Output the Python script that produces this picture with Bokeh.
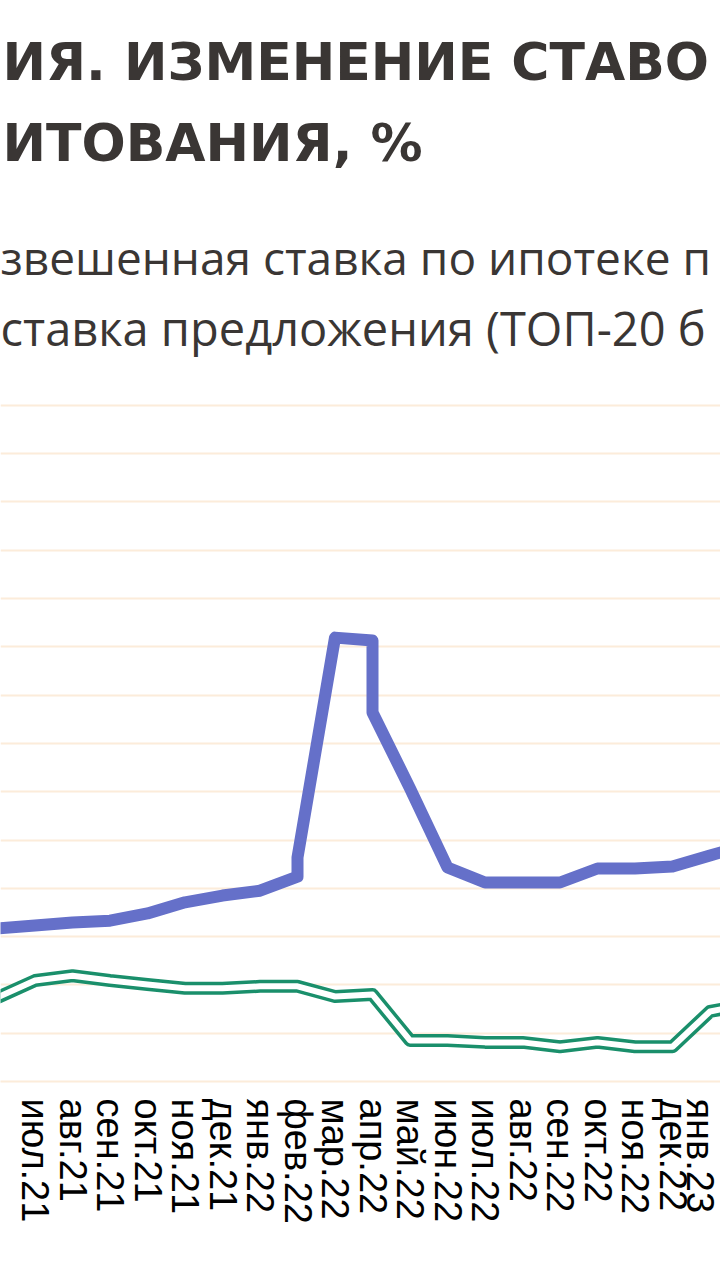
from bokeh.plotting import figure
from bokeh.models import Range1d, FixedTicker, Label
from bokeh.embed import file_html
from bokeh.resources import INLINE

# ---- data ----
months = ["июн.21", "июл.21", "авг.21", "сен.21", "окт.21", "ноя.21", "дек.21",
          "янв.22", "фев.22", "мар.22", "апр.22", "май.22", "июн.22", "июл.22",
          "авг.22", "сен.22", "окт.22", "ноя.22", "дек.22", "янв.23", "фев.23"]

# offer rate (TOP-20 banks): month position, two readings in фев.22 and апр.22
offer_pos = [0, 1, 2, 3, 4, 5, 6, 7, 8, 8, 9, 10, 10, 11, 12, 13, 14, 15, 16, 17, 18, 19, 20]
offer_rate = [8.17, 8.23, 8.29, 8.33, 8.48, 8.71, 8.85, 8.95, 9.24, 9.64, 14.19, 14.13,
              12.64, 11.07, 9.43, 9.12, 9.12, 9.12, 9.41, 9.41, 9.45, 9.68, 9.90]

# weighted average mortgage rate
avg_pos = list(range(21))
avg_rate = [6.74, 7.09, 7.19, 7.09, 7.01, 6.93, 6.93, 6.97, 6.97, 6.76, 6.80, 5.85,
            5.85, 5.81, 5.81, 5.72, 5.81, 5.72, 5.72, 6.45, 6.60]

grid_values = list(range(5, 20))

title_lines = ["ИЯ. ИЗМЕНЕНИЕ СТАВО", "ИТОВАНИЯ, %"]
legend_lines = ["звешенная ставка по ипотеке п", "ставка предложения (ТОП-20 б"]

# ---- styling ----
BLUE = "#6570c9"
GREEN = "#1a8f6b"
GRID = "#fcecda"
TEXT = "#3a3634"

W, H = 720, 1280
PX_PER_CAT = 37.5
PX_PER_UNIT = 48.3
FRAME_H = 1081

p = figure(width=W, height=H,
           x_range=Range1d(3 / PX_PER_CAT, (W + 3) / PX_PER_CAT),
           y_range=Range1d(5, 5 + FRAME_H / PX_PER_UNIT),
           output_backend="svg", toolbar_location=None,
           y_axis_location=None,
           min_border_left=0, min_border_right=0, min_border_top=0,
           min_border_bottom=H - FRAME_H)
p.outline_line_color = None
p.background_fill_color = "white"
p.border_fill_color = "white"
p.xgrid.visible = False
for g in p.ygrid:
    g.ticker = FixedTicker(ticks=grid_values)
    g.grid_line_color = GRID
    g.grid_line_width = 2

p.line(avg_pos, avg_rate, line_color=GREEN, line_width=13, line_join="round")
p.line(avg_pos, avg_rate, line_color="white", line_width=6, line_join="round")
p.line(offer_pos, offer_rate, line_color=BLUE, line_width=12, line_join="round")

ax = p.xaxis[0]
ax.ticker = FixedTicker(ticks=list(range(len(months))))
ax.major_label_overrides = {i: m for i, m in enumerate(months)}
ax.major_label_orientation = "vertical"
ax.major_label_text_font = "Liberation Sans"
ax.major_label_text_font_size = "38px"
ax.major_label_text_color = "black"
ax.major_label_standoff = 11
ax.major_tick_line_color = None
ax.minor_tick_line_color = None
ax.axis_line_color = GRID
ax.axis_line_width = 2

# title and legend texts
for txt, y in zip(title_lines, [1020, 939]):
    p.add_layout(Label(x=2, y=y, x_units="screen", y_units="screen", text=txt,
                       text_font="DejaVu Sans", text_font_style="bold",
                       text_font_size="52px", text_color=TEXT,
                       text_baseline="alphabetic"))
for txt, y, fs in zip(legend_lines, [825, 754], ["46px", "47px"]):
    p.add_layout(Label(x=0, y=y, x_units="screen", y_units="screen", text=txt,
                       text_font="Open Sans", text_font_size=fs,
                       text_color=TEXT, text_baseline="alphabetic"))

open("out.html", "w").write(file_html(p, INLINE))
